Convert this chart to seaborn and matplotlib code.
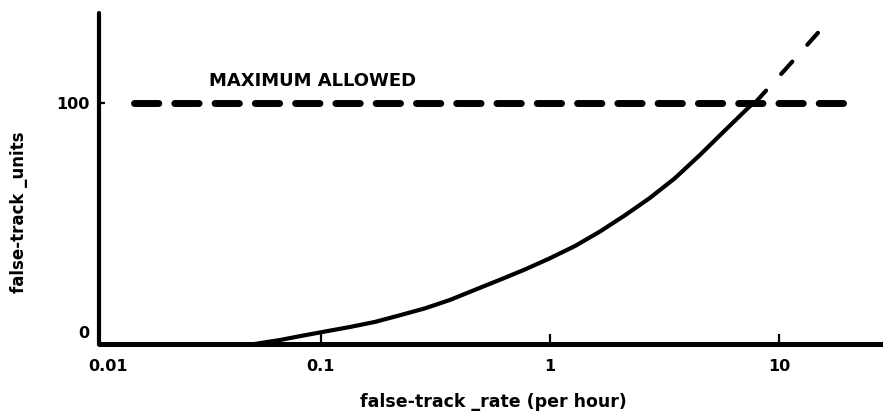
import numpy as np
import pandas as pd
import matplotlib
matplotlib.use("Agg")
import matplotlib.pyplot as plt
import seaborn as sns
from matplotlib.transforms import ScaledTranslation

# valori
rate = [0.0515, 0.0662, 0.081, 0.104, 0.134, 0.172, 0.221, 0.284, 0.366, 0.47,
        0.605, 0.778, 1.0, 1.29, 1.65, 2.13, 2.73, 3.51, 4.52, 5.81, 7.47, 7.85]
units = [-5.2, -3.5, -1.8, 0.2, 2.2, 4.4, 7.3, 10.3, 14.0, 18.4,
         22.8, 27.3, 32.2, 37.6, 43.8, 51.0, 58.5, 67.1, 77.3, 88.0, 98.6, 100.0]
ext_rate = [7.85, 10.7, 14.8]
ext_units = [100.0, 114.8, 130.6]
max_rate = [0.01525, 21.8]
max_units = [100.0, 100.0]
xtick_labels = ["0.01", "0.1", "1", "10"]
ytick_vals = [0, 100]
ytick_labels = ["0", "100"]

curve = pd.DataFrame({"rate": rate, "units": units})
ext = pd.DataFrame({"rate": ext_rate, "units": ext_units})
limit = pd.DataFrame({"rate": max_rate, "units": max_units})

sns.set_style("white", {"axes.edgecolor": "black", "text.color": "black",
                        "axes.labelcolor": "black", "xtick.color": "black",
                        "ytick.color": "black", "xtick.bottom": True,
                        "ytick.left": True})
plt.rcParams["font.family"] = ["DejaVu Sans"]
plt.rcParams["font.weight"] = "bold"

fig = plt.figure(figsize=(8.83, 4.17), dpi=100)
ax = fig.add_axes([0.1121, 0.175, 0.888, 0.794])
ax.set_xscale("log")

x_left, x_right = 0.01074, 28.5
ax.set_xlim(x_left, x_right)
ax.set_ylim(-5.24, 139.3)

# curva principale
sns.lineplot(data=curve, x="rate", y="units", ax=ax, color="black", lw=3,
             sort=False, solid_capstyle="round", solid_joinstyle="round")
# estrapolazione tratteggiata
sns.lineplot(data=ext, x="rate", y="units", ax=ax, color="black", lw=3,
             sort=False, linestyle=(0, (4, 5.4)), dash_capstyle="round")
# limite massimo
sns.lineplot(data=limit, x="rate", y="units", ax=ax, color="black", lw=5,
             sort=False, linestyle=(0, (3.5, 2.3)), dash_capstyle="round")

ax.text(0.092, 109.6, "MAXIMUM ALLOWED", ha="center", va="center",
        fontsize=13, fontweight="bold", color="black")

# assi
for s in ["top", "right"]:
    ax.spines[s].set_visible(False)
ax.spines["bottom"].set_linewidth(3.6)
ax.spines["left"].set_linewidth(3)
ax.spines["bottom"].set_capstyle("round")
ax.spines["left"].set_capstyle("round")

ax.set_xticks([x_left, 0.1, 1, 10])
ax.set_xticklabels(xtick_labels)
ax.xaxis.set_minor_locator(matplotlib.ticker.NullLocator())
ax.set_yticks(ytick_vals)
ax.set_yticklabels(ytick_labels)
ax.tick_params(axis="x", bottom=True, direction="in", length=7.5, width=1.6, pad=11,
               labelsize=11.5, colors="black")
ax.tick_params(axis="y", left=True, direction="in", length=4.5, width=1.6, pad=7,
               labelsize=11.5, colors="black")
ax.xaxis.get_major_ticks()[0].tick1line.set_visible(False)
ax.yaxis.get_major_ticks()[0].tick1line.set_visible(False)
for lab in ax.get_xticklabels() + ax.get_yticklabels():
    lab.set_fontweight("bold")
first = ax.get_xticklabels()[0]
first.set_transform(first.get_transform() + ScaledTranslation(9 / 100, 0, fig.dpi_scale_trans))

ax.set_xlabel("false-track _rate (per hour)", fontsize=12.5, fontweight="bold", color="black")
ax.set_ylabel("false-track _units", fontsize=12, fontweight="bold", color="black")
ax.xaxis.label.set_va("center")
ax.yaxis.label.set_va("center")
ax.xaxis.set_label_coords(0.5026, -0.175)
ax.yaxis.set_label_coords(-0.102, 0.399)

fig.savefig("out.png", dpi=100)
